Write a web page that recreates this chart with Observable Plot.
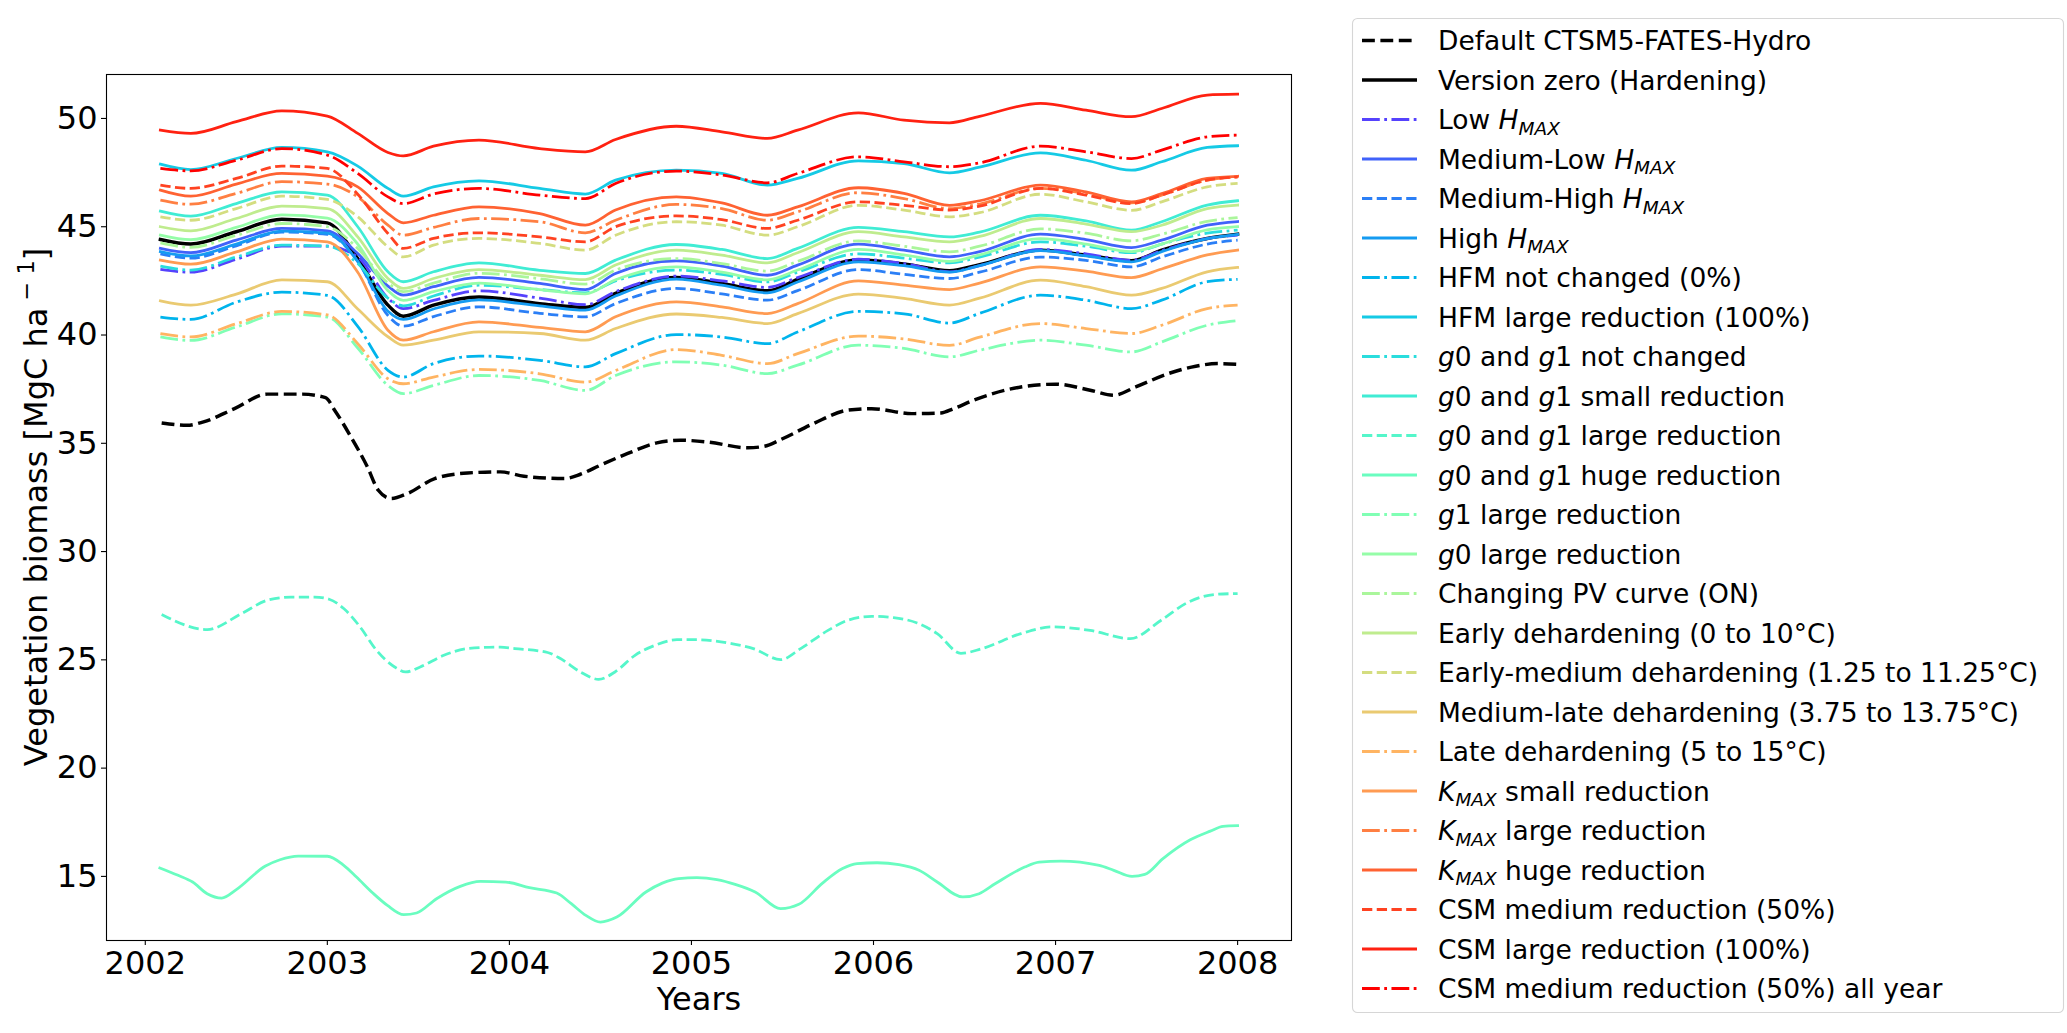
<!DOCTYPE html>
<html><head><meta charset="utf-8">
<script src="https://cdn.jsdelivr.net/npm/d3@7"></script>
<script src="https://cdn.jsdelivr.net/npm/@observablehq/plot@0.6"></script>
<style>
html,body{margin:0;padding:0;background:#fff;}
#wrap{position:relative;width:2067px;height:1033px;overflow:hidden;background:#fff;}
#chart{position:absolute;left:0;top:0;}
#legend{position:absolute;left:0;top:0;}
</style></head>
<body><div id="wrap"><div id="chart"></div><svg id="legend" width="2067" height="1033"></svg></div>
<script>
// ---------- data ----------
const grid = [2002.083,2002.25,2002.5,2002.75,2003.0,2003.167,2003.333,2003.417,2003.583,2003.833,2004.167,2004.417,2004.583,2004.917,2005.167,2005.417,2005.583,2005.917,2006.167,2006.417,2006.583,2006.917,2007.167,2007.417,2007.583,2007.833,2008.0];

const defaultX = [2002.09,2002.23,2002.32,2002.49,2002.67,2002.86,2002.99,2003.04,2003.13,2003.22,2003.28,2003.35,2003.44,2003.59,2003.77,2003.95,2004.08,2004.30,2004.39,2004.50,2004.65,2004.81,2004.94,2005.09,2005.31,2005.40,2005.49,2005.67,2005.86,2005.99,2006.21,2006.37,2006.44,2006.55,2006.81,2007.0,2007.19,2007.32,2007.44,2007.62,2007.77,2007.89,2008.0];
const defaultY = [35.94,35.83,35.99,36.6,37.27,37.27,37.11,36.53,35.29,33.91,32.83,32.45,32.68,33.37,33.63,33.68,33.48,33.37,33.57,33.99,34.53,35.02,35.14,35.06,34.79,34.86,35.17,35.91,36.53,36.60,36.37,36.40,36.60,36.99,37.60,37.73,37.45,37.22,37.60,38.22,38.56,38.68,38.65];

const g0g1LargeX = [2002.09,2002.34,2002.53,2002.67,2002.80,2002.93,2003.01,2003.09,2003.18,2003.27,2003.37,2003.43,2003.51,2003.64,2003.77,2003.95,2004.03,2004.21,2004.28,2004.39,2004.49,2004.58,2004.69,2004.80,2004.92,2005.03,2005.22,2005.34,2005.49,2005.60,2005.75,2005.86,2005.99,2006.11,2006.24,2006.35,2006.48,2006.59,2006.81,2006.98,2007.19,2007.41,2007.58,2007.73,2007.89,2008.0];
const g0g1LargeY = [27.09,26.40,27.14,27.75,27.90,27.90,27.80,27.37,26.52,25.44,24.67,24.44,24.67,25.21,25.52,25.59,25.52,25.34,25.06,24.44,24.10,24.44,25.21,25.67,25.93,25.93,25.75,25.52,25.01,25.52,26.36,26.83,27.01,26.95,26.70,26.21,25.30,25.50,26.21,26.52,26.36,25.98,26.83,27.67,28.03,28.06];

const g0g1HugeX = [2002.08,2002.18,2002.26,2002.34,2002.42,2002.50,2002.66,2002.74,2002.84,2003.00,2003.09,2003.16,2003.25,2003.33,2003.42,2003.49,2003.60,2003.73,2003.84,2003.98,2004.11,2004.26,2004.34,2004.42,2004.50,2004.59,2004.75,2004.84,2004.93,2005.03,2005.14,2005.24,2005.35,2005.49,2005.59,2005.72,2005.83,2005.91,2006.02,2006.14,2006.25,2006.35,2006.49,2006.58,2006.67,2006.83,2006.91,2007.03,2007.24,2007.32,2007.42,2007.49,2007.59,2007.74,2007.85,2007.92,2008.00];
const g0g1HugeY = [15.39,15.05,14.74,14.20,14.00,14.39,15.48,15.77,15.94,15.93,15.51,14.97,14.23,13.66,13.23,13.31,13.97,14.54,14.77,14.74,14.48,14.23,13.74,13.20,12.89,13.12,14.28,14.69,14.90,14.94,14.85,14.63,14.28,13.51,13.71,14.69,15.36,15.59,15.63,15.54,15.28,14.74,14.05,14.20,14.67,15.43,15.66,15.71,15.51,15.28,15.00,15.09,15.82,16.69,17.09,17.31,17.34];

const versionZero   = [44.41,44.20,44.77,45.35,45.18,43.53,41.38,40.87,41.38,41.76,41.45,41.27,41.92,42.66,42.38,42.04,42.57,43.46,43.28,42.97,43.25,43.92,43.69,43.43,43.92,44.46,44.66];
const lowHmax       = [43.03,42.90,43.50,44.10,44.10,43.60,41.70,41.22,41.60,42.04,41.70,41.40,42.00,42.72,42.50,42.20,42.65,43.50,43.30,42.92,43.20,43.95,43.75,43.45,43.90,44.45,44.61];
const medLowHmax    = [44.00,43.80,44.38,44.92,44.81,43.76,42.26,41.84,42.23,42.66,42.38,42.10,42.84,43.42,43.18,42.76,43.23,44.20,43.92,43.61,43.85,44.66,44.41,44.04,44.38,45.07,45.24];
const medHighHmax   = [43.75,43.55,44.12,44.75,44.65,43.40,40.90,40.41,40.85,41.30,41.00,40.84,41.45,42.15,41.90,41.61,42.05,43.02,42.80,42.61,42.90,43.60,43.45,43.15,43.60,44.20,44.38];
const highHmax      = [43.85,43.65,44.20,44.80,44.70,43.40,41.10,40.72,41.20,41.62,41.35,41.15,41.80,42.58,42.30,41.95,42.45,43.38,43.20,42.90,43.20,43.90,43.65,43.38,43.85,44.45,44.65];
const hfmNotChanged = [40.83,40.72,41.52,41.98,41.83,40.40,38.37,38.06,38.68,39.03,38.83,38.53,39.14,40.02,39.91,39.60,40.14,41.09,40.98,40.55,41.00,41.84,41.61,41.22,41.61,42.46,42.57];
const hfmLarge      = [47.89,47.64,48.15,48.66,48.46,47.80,46.77,46.41,46.84,47.12,46.77,46.51,47.15,47.61,47.46,46.92,47.23,48.04,47.92,47.49,47.75,48.41,48.07,47.61,48.00,48.66,48.74];
const g0g1NotChanged= [43.18,43.00,43.60,44.15,44.10,43.30,41.70,41.35,41.80,42.30,42.10,41.95,42.50,43.00,42.80,42.45,42.90,43.75,43.55,43.33,43.60,44.30,44.10,43.80,44.20,44.70,44.84];
const g0g1Small     = [45.72,45.49,46.07,46.61,46.46,45.00,42.92,42.46,42.92,43.33,42.99,42.84,43.46,44.18,43.95,43.53,44.00,44.97,44.77,44.53,44.75,45.53,45.27,44.84,45.23,46.00,46.20];
const g1Large       = [39.91,39.75,40.37,40.98,40.83,39.40,37.67,37.29,37.67,38.13,37.90,37.44,38.13,38.76,38.61,38.22,38.61,39.53,39.38,38.99,39.30,39.76,39.53,39.22,39.68,40.45,40.66];
const g0Large       = [44.61,44.40,44.97,45.55,45.40,44.20,42.05,41.60,42.00,42.40,42.10,41.90,42.55,43.15,42.90,42.55,43.00,43.95,43.70,43.40,43.70,44.45,44.20,43.85,44.20,44.85,45.00];
const changingPV    = [44.25,44.05,44.60,45.15,45.00,44.00,42.40,42.00,42.40,42.85,42.60,42.35,43.00,43.53,43.30,42.95,43.40,44.35,44.10,43.84,44.10,44.90,44.70,44.35,44.65,45.25,45.42];
const earlyDehard   = [45.00,44.81,45.38,45.95,45.84,44.53,42.61,42.15,42.61,43.02,42.76,42.56,43.23,43.92,43.69,43.33,43.80,44.77,44.53,44.30,44.55,45.38,45.12,44.77,45.07,45.84,46.00];
const earlyMedDehard= [45.46,45.30,45.84,46.41,46.26,45.46,44.07,43.61,44.15,44.46,44.23,43.92,44.61,45.23,45.07,44.61,45.00,45.99,45.77,45.46,45.65,46.50,46.15,45.76,46.15,46.84,47.00];
const medLateDehard = [41.58,41.38,41.89,42.55,42.46,41.20,39.92,39.53,39.76,40.15,40.07,39.76,40.30,40.97,40.81,40.53,40.99,41.89,41.69,41.38,41.70,42.53,42.23,41.84,42.15,42.92,43.12];
const lateDehard    = [40.06,39.91,40.52,41.09,40.93,39.60,37.98,37.75,38.06,38.41,38.21,37.82,38.36,39.33,39.06,38.68,39.14,39.95,39.82,39.52,39.90,40.53,40.30,40.07,40.45,41.22,41.38];
const kmaxSmall     = [43.46,43.27,43.84,44.43,44.30,42.90,40.22,39.76,40.15,40.61,40.35,40.15,40.84,41.53,41.30,40.99,41.45,42.50,42.30,42.10,42.40,43.15,42.95,42.65,43.05,43.70,43.92];
const kmaxLarge     = [46.23,46.04,46.54,47.08,46.97,46.38,45.07,44.61,44.97,45.38,45.23,44.72,45.30,46.03,45.84,45.30,45.69,46.57,46.30,45.84,46.05,46.77,46.53,46.10,46.46,47.15,47.30];
const kmaxHuge      = [46.69,46.41,46.97,47.46,47.34,46.84,45.61,45.18,45.53,45.92,45.61,45.07,45.77,46.38,46.10,45.53,45.92,46.80,46.54,45.99,46.20,46.92,46.61,46.15,46.53,47.23,47.33];
const csmMedium     = [46.92,46.77,47.23,47.80,47.69,46.50,44.69,44.00,44.46,44.72,44.53,44.30,45.00,45.50,45.33,44.92,45.30,46.15,45.99,45.77,45.95,46.77,46.46,46.07,46.46,47.15,47.30];
const csmLarge      = [49.46,49.31,49.85,50.35,50.11,49.31,48.43,48.27,48.72,49.00,48.61,48.46,49.03,49.64,49.38,49.08,49.46,50.26,49.92,49.80,50.10,50.70,50.38,50.08,50.46,51.08,51.12];
const csmAllYear    = [47.69,47.58,48.07,48.61,48.31,47.46,46.38,46.07,46.51,46.77,46.46,46.30,47.00,47.57,47.39,47.03,47.46,48.23,48.00,47.77,47.95,48.72,48.46,48.15,48.54,49.15,49.23];

const xTicks = [2002,2003,2004,2005,2006,2007,2008];
const yTicks = [15,20,25,30,35,40,45,50];

// legend labels: [text, style] parts; style "i" = italic, "s" = italic subscript
const legendLabels = [
  [["Default CTSM5-FATES-Hydro"]],
  [["Version zero (Hardening)"]],
  [["Low "],["H","i"],["MAX","s"]],
  [["Medium-Low "],["H","i"],["MAX","s"]],
  [["Medium-High "],["H","i"],["MAX","s"]],
  [["High "],["H","i"],["MAX","s"]],
  [["HFM not changed (0%)"]],
  [["HFM large reduction (100%)"]],
  [["g","i"],["0 and "],["g","i"],["1 not changed"]],
  [["g","i"],["0 and "],["g","i"],["1 small reduction"]],
  [["g","i"],["0 and "],["g","i"],["1 large reduction"]],
  [["g","i"],["0 and "],["g","i"],["1 huge reduction"]],
  [["g","i"],["1 large reduction"]],
  [["g","i"],["0 large reduction"]],
  [["Changing PV curve (ON)"]],
  [["Early dehardening (0 to 10°C)"]],
  [["Early-medium dehardening (1.25 to 11.25°C)"]],
  [["Medium-late dehardening (3.75 to 13.75°C)"]],
  [["Late dehardening (5 to 15°C)"]],
  [["K","i"],["MAX","s"],[" small reduction"]],
  [["K","i"],["MAX","s"],[" large reduction"]],
  [["K","i"],["MAX","s"],[" huge reduction"]],
  [["CSM medium reduction (50%)"]],
  [["CSM large reduction (100%)"]],
  [["CSM medium reduction (50%) all year"]]
];
const lineStyles = ["dashed","solid","dashdot","solid","dashed","solid","dashdot","solid","dashdot","solid","dashed","solid","dashdot","solid","dashdot","solid","dashed","solid","dashdot","solid","dashdot","solid","dashed","solid","dashdot"];

// ---------- build ----------
function rainbow(t){
  const r = Math.min(1, Math.abs(2*t - 0.5));
  const g = Math.max(0, Math.sin(Math.PI*t));
  const b = Math.max(0, Math.cos(Math.PI*t/2));
  return d3.rgb(r*255, g*255, b*255).formatHex();
}
const colors = legendLabels.map((_, i) => i < 2 ? "#000000" : rainbow(i/24));
const widths = legendLabels.map((_, i) => i < 2 ? 3.47 : 2.78);
function dashFor(style, w){
  if (style === "dashed") return [3.7*w, 1.6*w].map(v=>v.toFixed(2)).join(",");
  if (style === "dashdot") return [6.4*w, 1.6*w, 1*w, 1.6*w].map(v=>v.toFixed(2)).join(",");
  return null;
}
const pairs = (xs, ys) => xs.map((x, j) => ({x, y: ys[j]}));
const onGrid = ys => pairs(grid, ys);
const seriesData = [
  pairs(defaultX, defaultY), onGrid(versionZero), onGrid(lowHmax), onGrid(medLowHmax), onGrid(medHighHmax),
  onGrid(highHmax), onGrid(hfmNotChanged), onGrid(hfmLarge), onGrid(g0g1NotChanged), onGrid(g0g1Small),
  pairs(g0g1LargeX, g0g1LargeY), pairs(g0g1HugeX, g0g1HugeY), onGrid(g1Large), onGrid(g0Large), onGrid(changingPV),
  onGrid(earlyDehard), onGrid(earlyMedDehard), onGrid(medLateDehard), onGrid(lateDehard), onGrid(kmaxSmall),
  onGrid(kmaxLarge), onGrid(kmaxHuge), onGrid(csmMedium), onGrid(csmLarge), onGrid(csmAllYear)
];

const lineMarks = seriesData.map((data, i) => {
  const opts = {x: "x", y: "y", stroke: colors[i], strokeWidth: widths[i], curve: "monotone-x",
    strokeLinejoin: "round", strokeLinecap: lineStyles[i] === "solid" ? "square" : "butt"};
  const d = dashFor(lineStyles[i], widths[i]);
  if (d) opts.strokeDasharray = d;
  return Plot.line(data, opts);
});

const chart = Plot.plot({
  width: 1340, height: 1033,
  marginLeft: 106, marginRight: 49, marginTop: 74, marginBottom: 93,
  x: {domain: [2001.787, 2008.296]},
  y: {domain: [12.04, 52.03]},
  style: {fontFamily: "DejaVu Sans", fontSize: "32px", color: "#000", background: "#fff", overflow: "visible"},
  marks: [
    ...lineMarks,
    Plot.frame({stroke: "#000", strokeWidth: 1.1}),
    Plot.axisX({ticks: xTicks, tickFormat: d => String(d), tickSize: 5, tickPadding: 6, fontSize: 32, label: null, strokeWidth: 1.1}),
    Plot.axisY({ticks: yTicks, tickFormat: d => String(d), tickSize: 5, tickPadding: 4, fontSize: 32, label: null, strokeWidth: 1.1})
  ]
});
document.getElementById("chart").appendChild(chart);

// axis titles
const svg = d3.select(chart);
svg.append("text").attr("x", 699).attr("y", 1010).attr("text-anchor", "middle")
  .attr("font-family", "DejaVu Sans").attr("font-size", 32).attr("fill", "#000").text("Years");
const yl = svg.append("text").attr("transform", "translate(47,507) rotate(-90)").attr("text-anchor", "middle")
  .attr("font-family", "DejaVu Sans").attr("font-size", 32).attr("fill", "#000");
yl.append("tspan").text("Vegetation biomass [MgC ha");
yl.append("tspan").attr("font-size", 22.4).attr("dy", -13).text(" − 1");
yl.append("tspan").attr("dy", 13).text("]");

// legend
const lg = d3.select("#legend").attr("font-family", "DejaVu Sans");
const rowY = i => 40.5 + i*39.5;
lg.append("rect").attr("x", 1352.5).attr("y", 18.5).attr("width", 711).attr("height", 994)
  .attr("rx", 5).attr("fill", "#fff").attr("stroke", "#d6d6d6").attr("stroke-width", 1.1);
legendLabels.forEach((parts, i) => {
  const y = rowY(i);
  const ln = lg.append("line").attr("x1", 1362).attr("x2", 1417).attr("y1", y).attr("y2", y)
    .attr("stroke", colors[i]).attr("stroke-width", widths[i])
    .attr("stroke-linecap", lineStyles[i] === "solid" ? "butt" : "butt");
  const d = dashFor(lineStyles[i], widths[i]);
  if (d) ln.attr("stroke-dasharray", d);
  const t = lg.append("text").attr("x", 1438).attr("y", y + 9.6).attr("font-size", 26.5).attr("fill", "#000");
  let shifted = 0;
  parts.forEach(([txt, st]) => {
    const sp = t.append("tspan").text(txt);
    if (st === "i") { sp.attr("font-style", "italic"); if (shifted) { sp.attr("dy", -shifted); shifted = 0; } }
    else if (st === "s") { sp.attr("font-style", "italic").attr("font-size", 18.5).attr("dy", 5.5); shifted = 5.5; }
    else if (shifted) { sp.attr("dy", -shifted); shifted = 0; }
  });
});
</script></body></html>
